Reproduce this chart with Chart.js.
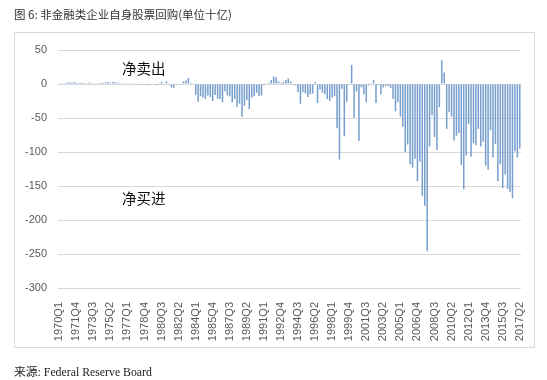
<!DOCTYPE html>
<html>
<head>
<meta charset="utf-8">
<script src="https://cdn.jsdelivr.net/npm/chart.js@4"></script>
<style>
  html, body { margin: 0; padding: 0; background: #fff; }
  #wrap { position: relative; width: 547px; height: 380px; overflow: hidden; }
  #box { position: absolute; left: 14px; top: 32px; width: 521px; height: 316px; border: 1px solid #d9d9d9; box-sizing: border-box; }
  canvas { position: absolute; left: 0; top: 0; }
  .title { position: absolute; left: 14px; top: 6px; font: 11.5px "Noto Sans CJK SC", "Liberation Sans", sans-serif; color: #333; white-space: nowrap; }
  .src { position: absolute; left: 14px; top: 362px; font: 11.8px "Liberation Serif", "Noto Sans CJK SC", serif; color: #222; white-space: nowrap; }
  .note { position: absolute; font: 14.5px "Noto Sans CJK SC", sans-serif; color: #111; white-space: nowrap; }
</style>
</head>
<body>
<div id="wrap">
  <div id="box"></div>
  <canvas id="c" width="547" height="380"></canvas>
  <div class="title">图 6: 非金融类企业自身股票回购(单位十亿)</div>
  <div class="note" style="left:122px; top:57px;">净卖出</div>
  <div class="note" style="left:122px; top:187px;">净买进</div>
  <div class="src">来源: Federal Reserve Board</div>
</div>
<script>
// Quarter categories 1970Q1 .. 2017Q2
const startYear = 1970, endYear = 2017, endQuarter = 2;
const categories = [];
for (let y = startYear; y <= endYear; y++) {
  for (let q = 1; q <= 4; q++) {
    if (y === endYear && q > endQuarter) break;
    categories.push(y + 'Q' + q);
  }
}
const labelEvery = 7;

// Net equity issuance of nonfinancial corporations (billions)
const buybacks = [
  0.5, 1, 1, 2, 2.5, 2, 3, 2, 1.5, 2,
  1.5, 1, 2, 1.5, 1, 0.5, 1, 1.5, 2, 2.5,
  3, 2, 3, 2.5, 2, 1.5, 1, 0.5, 1, 0.5,
  -0.5, 0.5, -1, -1.5, -0.5, -1, -2, -1.5, -1, -0.5,
  -2, 1, 3, -1, 4, 1, -5,
  -6, -1, 1, -1, 4, 5, 9, 2, 1,
  -16, -26, -18, -20, -22, -17, -19, -25, -16, -22,
  -22, -27, -11, -17, -18, -27, -22, -34, -29, -48,
  -32, -24, -37, -20, -18, -13, -18, -17, -2, 1,
  2, 6, 11, 10, 4, 2, 3, 6, 8, 4, -1, -2,
  -12, -29, -12, -14, -19, -15, -14, 3, -28, -8,
  -13, -15, -22, -25, -20, -18, -65, -111, -7, -77, -26, -1,
  28, -50, -11, -84, -5, -15, -27, -2, 1, 6,
  -28, -2, -15, -5, -3, -3, -6, -22, -40, -27,
  -48, -63, -100, -89, -118, -123, -110, -143, -114, -165,
  -179, -246, -92, -46, -78, -97, -34, 35, 17, -66,
  -41, -48, -83, -76, -72, -119, -155, -105, -59, -107,
  -87, -90, -66, -92, -85, -120, -126, -68, -108, -88,
  -143, -118, -153, -133, -154, -159, -168, -99, -108, -95
];

const yMin = -300, yMax = 50, yStep = 50;

new Chart(document.getElementById('c'), {
  type: 'bar',
  data: {
    labels: categories,
    datasets: [{
      data: buybacks,
      backgroundColor: '#779fce',
      borderWidth: 0,
      barPercentage: 0.62,
      categoryPercentage: 1
    }]
  },
  options: {
    responsive: false,
    animation: false,
    devicePixelRatio: 1,
    layout: { padding: { left: 0, right: 26, top: 50, bottom: 32 } },
    plugins: { legend: { display: false }, tooltip: { enabled: false } },
    scales: {
      x: {
        grid: { display: false },
        border: { display: false },
        afterFit: s => { s.height = 60; },
        ticks: {
          autoSkip: false,
          maxRotation: 90,
          minRotation: 90,
          padding: 6,
          color: '#595959',
          font: { family: 'Liberation Sans', size: 11 },
          callback: function (v, i) { return i % labelEvery === 0 ? categories[i] : ''; }
        }
      },
      y: {
        min: yMin, max: yMax,
        afterFit: s => { s.width = 58; },
        grid: { color: '#d9d9d9', lineWidth: 1, drawTicks: false },
        border: { display: false },
        ticks: {
          stepSize: yStep,
          padding: 11,
          color: '#595959',
          font: { family: 'Liberation Sans', size: 11 }
        }
      }
    }
  }
});
</script>
</body>
</html>
